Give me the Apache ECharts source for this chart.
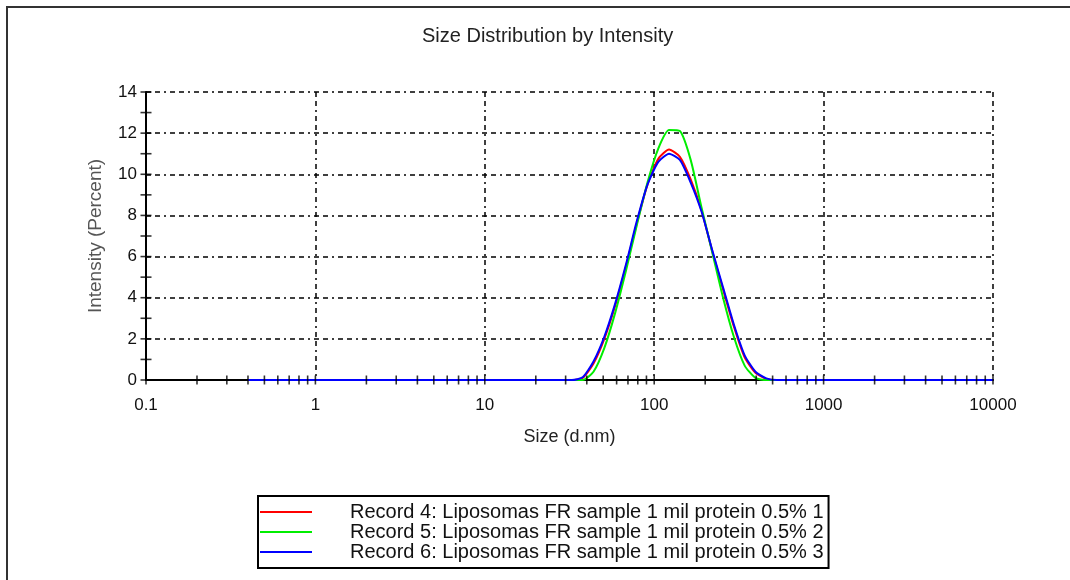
<!DOCTYPE html>
<html>
<head>
<meta charset="utf-8">
<script src="https://cdn.jsdelivr.net/npm/echarts/dist/echarts.min.js"></script>
<style>
  html, body { margin: 0; padding: 0; background: #ffffff; }
  #chart { width: 1070px; height: 580px; }
</style>
</head>
<body>
<div id="chart"></div>
<script>
// Size bins (d.nm), log spaced from 0.4 to 10000
const sizes = [
  0.4, 0.4632, 0.5365, 0.6213, 0.7195, 0.8332, 0.9649, 1.117, 1.294, 1.499,
  1.736, 2.01, 2.328, 2.696, 3.122, 3.615, 4.187, 4.849, 5.615, 6.503,
  7.531, 8.721, 10.1, 11.7, 13.54, 15.69, 18.17, 21.04, 24.36, 28.21,
  32.67, 37.84, 43.82, 50.75, 58.77, 68.06, 78.82, 91.28, 105.7, 122.4,
  141.8, 164.2, 190.1, 220.2, 255.0, 295.3, 342.0, 396.1, 458.7, 531.2,
  615.1, 712.4, 825.0, 955.4, 1106, 1281, 1484, 1718, 1990, 2305,
  2669, 3091, 3580, 4145, 4801, 5560, 6439, 7456, 8635, 10000
];

// Intensity (%) per bin
const record4 = [
  0, 0, 0, 0, 0, 0, 0, 0, 0, 0,
  0, 0, 0, 0, 0, 0, 0, 0, 0, 0,
  0, 0, 0, 0, 0, 0, 0, 0, 0, 0,
  0, 0.1, 0.8, 2.0, 3.6, 5.5, 7.6, 9.5, 10.75, 11.2,
  10.85, 9.75, 8.25, 6.25, 4.4, 2.6, 1.1, 0.35, 0.05, 0,
  0, 0, 0, 0, 0, 0, 0, 0, 0, 0,
  0, 0, 0, 0, 0, 0, 0, 0, 0, 0
];
const record5 = [
  0, 0, 0, 0, 0, 0, 0, 0, 0, 0,
  0, 0, 0, 0, 0, 0, 0, 0, 0, 0,
  0, 0, 0, 0, 0, 0, 0, 0, 0, 0,
  0, 0, 0.4, 1.55, 3.25, 5.3, 7.5, 9.6, 11.25, 12.15,
  12.1, 10.7, 8.4, 6.2, 4.0, 2.1, 0.7, 0.1, 0, 0,
  0, 0, 0, 0, 0, 0, 0, 0, 0, 0,
  0, 0, 0, 0, 0, 0, 0, 0, 0, 0
];
const record6 = [
  0, 0, 0, 0, 0, 0, 0, 0, 0, 0,
  0, 0, 0, 0, 0, 0, 0, 0, 0, 0,
  0, 0, 0, 0, 0, 0, 0, 0, 0, 0,
  0, 0.13, 0.9, 2.1, 3.7, 5.6, 7.7, 9.5, 10.6, 11.0,
  10.7, 9.6, 8.2, 6.3, 4.5, 2.7, 1.2, 0.4, 0.08, 0,
  0, 0, 0, 0, 0, 0, 0, 0, 0, 0,
  0, 0, 0, 0, 0, 0, 0, 0, 0, 0
];

const seriesNames = [
  'Record 4: Liposomas FR sample 1 mil protein 0.5% 1',
  'Record 5: Liposomas FR sample 1 mil protein 0.5% 2',
  'Record 6: Liposomas FR sample 1 mil protein 0.5% 3'
];
const seriesColors = ['#ff0000', '#00ee00', '#0000ff'];
const seriesValues = [record4, record5, record6];

// Axis tick positions
const yTickValues = [0, 1, 2, 3, 4, 5, 6, 7, 8, 9, 10, 11, 12, 13, 14];
const xDecades = [0.1, 1, 10, 100, 1000];
const xSteps = [1, 2, 3, 4, 5, 6, 7, 8, 9];
const xTickValues = [];
xDecades.forEach(d => xSteps.forEach(s => xTickValues.push(+(d * s).toPrecision(3))));
xTickValues.push(10000);

const FONT = '"Liberation Sans", Arial, sans-serif';
const gridDash = [5, 4, 5, 4, 2, 4];

const chart = echarts.init(document.getElementById('chart'), null, { renderer: 'canvas' });

const lineSeries = seriesNames.map((name, k) => ({
  name: name,
  type: 'line',
  data: sizes.map((s, i) => [s, seriesValues[k][i]]),
  showSymbol: false,
  symbol: 'none',
  smooth: 0.2,
  color: seriesColors[k],
  lineStyle: { color: seriesColors[k], width: 2 },
  z: 3 + k,
  silent: true
}));

chart.setOption({
  animation: false,
  backgroundColor: '#ffffff',
  title: {
    text: 'Size Distribution by Intensity',
    left: 422,
    top: 26,
    padding: 0,
    textStyle: { fontFamily: FONT, fontSize: 20, fontWeight: 'normal', color: '#222' }
  },
  graphic: [{
    type: 'polyline',
    shape: { points: [[7, 580], [7, 7], [1070, 7]] },
    style: { stroke: '#333', lineWidth: 2, fill: null },
    silent: true
  }],
  legend: {
    data: seriesNames,
    orient: 'vertical',
    left: 258,
    top: 496,
    padding: [6, 5, 6, 2],
    itemGap: 0,
    itemWidth: 52,
    itemHeight: 2,
    icon: 'rect',
    borderColor: '#000',
    borderWidth: 2,
    selectedMode: false,
    textStyle: {
      fontFamily: FONT, fontSize: 20, color: '#111', lineHeight: 20,
      padding: [0, 0, 0, 33]
    }
  },
  grid: { left: 146, right: 77, top: 92, bottom: 200, containLabel: false },
  xAxis: {
    type: 'log',
    min: 0.1,
    max: 10000,
    logBase: 10,
    name: 'Size (d.nm)',
    nameLocation: 'middle',
    nameGap: 48,
    nameTextStyle: { fontFamily: FONT, fontSize: 18, color: '#222' },
    axisLine: { show: true, onZero: false, lineStyle: { color: '#000', width: 2 } },
    axisTick: { show: false },
    axisLabel: {
      fontFamily: FONT, fontSize: 17, color: '#111', margin: 17,
      formatter: v => String(v)
    },
    splitLine: { show: true, lineStyle: { color: '#000', width: 1.5, type: gridDash } },
    minorTick: { show: false },
    minorSplitLine: { show: false }
  },
  yAxis: {
    type: 'value',
    min: 0,
    max: 14,
    interval: 2,
    name: 'Intensity (Percent)',
    nameLocation: 'middle',
    nameGap: 41,
    nameRotate: 90,
    nameTextStyle: { fontFamily: FONT, fontSize: 19, color: '#555' },
    axisLine: { show: true, lineStyle: { color: '#000', width: 2 } },
    axisTick: { show: false },
    axisLabel: { fontFamily: FONT, fontSize: 17, color: '#111', margin: 9 },
    splitLine: { show: true, lineStyle: { color: '#000', width: 1.5, type: gridDash } }
  },
  series: lineSeries.concat([
    {
      name: 'x ticks',
      type: 'scatter',
      data: xTickValues.map(v => [v, 0]),
      symbol: 'rect',
      symbolSize: [1.6, 9],
      itemStyle: { color: '#000' },
      clip: false,
      silent: true,
      z: 10
    },
    {
      name: 'y ticks',
      type: 'scatter',
      data: yTickValues.map(v => [0.1, v]),
      symbol: 'rect',
      symbolSize: [11, 1.6],
      itemStyle: { color: '#000' },
      clip: false,
      silent: true,
      z: 10
    }
  ])
});
</script>
</body>
</html>
